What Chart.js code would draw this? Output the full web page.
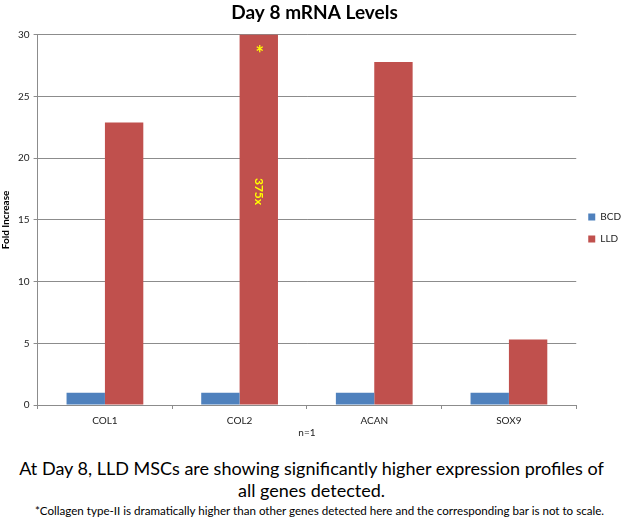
<!DOCTYPE html>
<html>
<head>
<meta charset="utf-8">
<script src="https://cdn.jsdelivr.net/npm/chart.js@4.4.1/dist/chart.umd.min.js"></script>
<style>
  body { margin: 0; background: #fff; font-family: Lato, "Open Sans", sans-serif; }
  #wrap { position: relative; width: 623px; height: 520px; }
  #box { position: absolute; left: 0; top: 0; width: 623px; height: 442px; }
  .note { position: absolute; left: 0; width: 623px; text-align: center; color: #000; }
  #line1 { top: 457px; font-size: 18px; line-height: 22px; }
  #line2 { top: 504px; font-size: 11.6px; line-height: 14px; left: 8px; }
</style>
</head>
<body>
<div id="wrap">
  <div id="box"><canvas id="chart"></canvas></div>
  <div class="note" id="line1">At Day 8, LLD MSCs are showing significantly higher expression profiles of<br>all genes detected.</div>
  <div class="note" id="line2">*Collagen type-II is dramatically higher than other genes detected here and the corresponding bar is not to scale.</div>
</div>
<script>
const genes = ['COL1', 'COL2', 'ACAN', 'SOX9'];
const bcdValues = [1, 1, 1, 1];
const lldValues = [22.9, 375, 27.8, 5.3];
const yTicks = [0, 5, 10, 15, 20, 25, 30];

const font = 'Lato, "Open Sans", sans-serif';

// yellow marks on the COL2 bar, which runs off the top of the scale
const col2Marks = {
  id: 'col2Marks',
  afterDatasetsDraw(chart) {
    const bar = chart.getDatasetMeta(1).data[genes.indexOf('COL2')];
    const y = chart.scales.y;
    const ctx = chart.ctx;
    ctx.save();
    ctx.fillStyle = '#ffff00';
    ctx.textAlign = 'center';
    ctx.textBaseline = 'middle';
    ctx.font = 'bold 20px ' + font;
    ctx.fillText('*', bar.x + 1, y.getPixelForValue(28.4));
    ctx.translate(bar.x, y.getPixelForValue(17.3));
    ctx.rotate(Math.PI / 2);
    ctx.font = 'bold 12px ' + font;
    ctx.fillText('375x', 0, 0);
    ctx.restore();
  }
};

new Chart(document.getElementById('chart'), {
  type: 'bar',
  data: {
    labels: genes,
    datasets: [
      { label: 'BCD', data: bcdValues, backgroundColor: '#4f81bd' },
      { label: 'LLD', data: lldValues, backgroundColor: '#c0504d' }
    ]
  },
  options: {
    responsive: true,
    maintainAspectRatio: false,
    animation: false,
    layout: { padding: { left: -2, right: -8, top: 0, bottom: 0 } },
    datasets: { bar: { categoryPercentage: 0.57, barPercentage: 1 } },
    plugins: {
      title: {
        display: true,
        text: 'Day 8 mRNA Levels',
        color: '#000',
        font: { family: font, size: 19, weight: 'bold' },
        padding: { top: 1, bottom: 11 }
      },
      legend: {
        position: 'right',
        title: { display: true, text: ' ', font: { family: font, size: 10 }, padding: 1 },
        labels: {
          color: '#222',
          font: { family: font, size: 10 },
          boxWidth: 7,
          boxHeight: 7,
          padding: 12
        }
      },
      tooltip: { enabled: false }
    },
    scales: {
      x: {
        grid: { drawOnChartArea: false, drawTicks: true, tickLength: 4, offset: true, color: '#8c8c8c' },
        border: { color: '#8c8c8c' },
        ticks: { color: '#222', font: { family: font, size: 10 }, padding: 6 },
        title: { display: true, text: 'n=1', color: '#222', font: { family: font, size: 10 }, padding: { top: -6, bottom: 3 } }
      },
      y: {
        min: 0,
        max: 30,
        afterBuildTicks: (axis) => { axis.ticks = yTicks.map((v) => ({ value: v })); },
        grid: { color: '#8c8c8c', tickLength: 4 },
        border: { color: '#8c8c8c' },
        ticks: { color: '#222', font: { family: font, size: 10 }, padding: 4 },
        title: { display: true, text: 'Fold Increase', color: '#000', font: { family: font, size: 10, weight: 'bold' }, padding: 2 }
      }
    }
  },
  plugins: [col2Marks]
});
</script>
</body>
</html>
